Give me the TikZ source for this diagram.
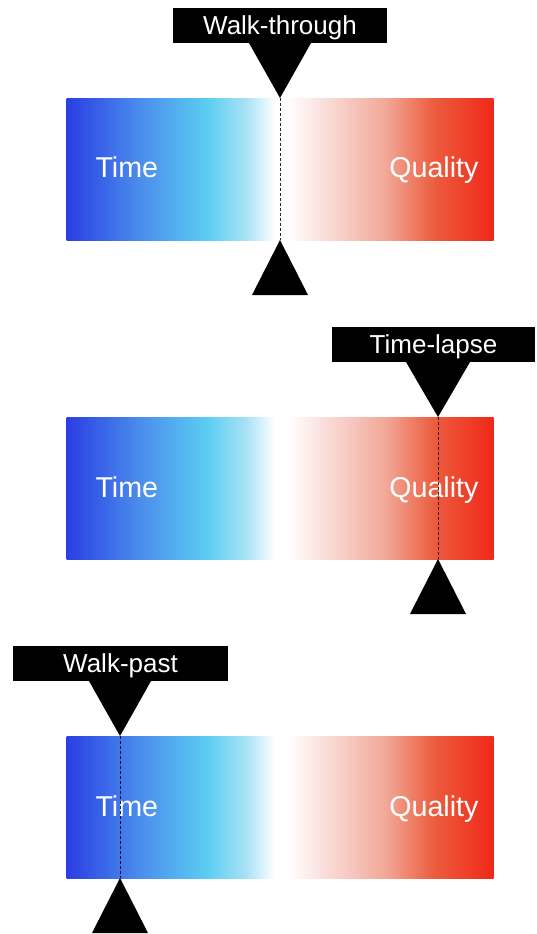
\documentclass[tikz,border=0pt]{standalone}
\usepackage{fontspec}
\setmainfont{Liberation Sans}
\usetikzlibrary{calc}

% colour stops of the bar, blue (time) through white to red (quality)
\definecolor{tqBlueDeep}{RGB}{42,62,228}
\definecolor{tqBlue}{RGB}{74,140,236}
\definecolor{tqCyan}{RGB}{92,205,242}
\definecolor{tqIce}{RGB}{168,226,246}
\definecolor{tqPink}{RGB}{250,224,220}
\definecolor{tqSalmon}{RGB}{242,166,150}
\definecolor{tqOrange}{RGB}{236,92,62}
\definecolor{tqRed}{RGB}{240,40,24}

% the bar uses the middle 50bp of the shading
\pgfdeclarehorizontalshading{timequality}{100bp}{%
  color(0bp)=(tqBlueDeep); color(25bp)=(tqBlueDeep);
  color(33.5bp)=(tqBlue); color(41.5bp)=(tqCyan);
  color(46bp)=(tqIce); color(49.4bp)=(white);
  color(50.8bp)=(white); color(55bp)=(tqPink);
  color(62.5bp)=(tqSalmon); color(68bp)=(tqOrange);
  color(75bp)=(tqRed); color(100bp)=(tqRed)}

\tikzset{every picture/.style={line width=0.75pt},
  scalebar/.style={shading=timequality, draw=none, inner sep=0pt,
    minimum width=320.25pt, minimum height=106.5pt},
  barlabel/.style={text=white, inner sep=0pt, font=\fontsize{21.5}{24}\selectfont},
  tagbox/.style={fill=black, text=white, inner sep=0pt, minimum height=26.25pt,
    text height=14pt, text depth=0pt, font=\fontsize{19.5}{22}\selectfont},
  pointer/.style={fill=black},
  markline/.style={draw=black, draw opacity=0.85, line width=0.6pt,
    dash pattern=on 2.25pt off 1.5pt}}

\begin{document}
\begin{tikzpicture}[x=0.75pt,y=0.75pt,yscale=-1,xscale=1]
    \useasboundingbox (0,0) rectangle (536,934);

    %Walk-through: marker in the middle
    \node[scalebar, anchor=north west] (bar1) at (66,98) {};
    \node[barlabel, anchor=base west] (time1) at (95,178) {Time};
    \node[barlabel, anchor=base east] (qual1) at (479,178) {Quality};
    \node[tagbox, minimum width=160.5pt] (tag1) at (280,25.5) {Walk-through};
    \coordinate (mark1t) at (280,98);
    \coordinate (mark1b) at (280,240);
    \fill[pointer] ($(mark1t)+(-31,-55)$) -- ($(mark1t)+(31,-55)$) -- (mark1t) -- cycle;
    \fill[pointer] (mark1b) -- ($(mark1b)+(28,55)$) -- ($(mark1b)+(-28,55)$) -- cycle;
    \draw[markline] (mark1t) -- (mark1b);

    %Time-lapse: marker on the quality side
    \node[scalebar, anchor=north west] (bar2) at (66,417) {};
    \node[barlabel, anchor=base west] (time2) at (95,497) {Time};
    \node[barlabel, anchor=base east] (qual2) at (479,497) {Quality};
    \node[tagbox, minimum width=152.25pt] (tag2) at (433.5,344.5) {Time-lapse};
    \coordinate (mark2t) at (438,417);
    \coordinate (mark2b) at (438,559);
    \fill[pointer] ($(mark2t)+(-32,-55)$) -- ($(mark2t)+(32,-55)$) -- (mark2t) -- cycle;
    \fill[pointer] (mark2b) -- ($(mark2b)+(28,55)$) -- ($(mark2b)+(-28,55)$) -- cycle;
    \draw[markline] (mark2t) -- (mark2b);

    %Walk-past: marker on the time side
    \node[scalebar, anchor=north west] (bar3) at (66,736) {};
    \node[barlabel, anchor=base west] (time3) at (95,816) {Time};
    \node[barlabel, anchor=base east] (qual3) at (479,816) {Quality};
    \node[tagbox, minimum width=161.25pt] (tag3) at (120.5,663.5) {Walk-past};
    \coordinate (mark3t) at (120,736);
    \coordinate (mark3b) at (120,878);
    \fill[pointer] ($(mark3t)+(-31,-55)$) -- ($(mark3t)+(31,-55)$) -- (mark3t) -- cycle;
    \fill[pointer] (mark3b) -- ($(mark3b)+(28,55)$) -- ($(mark3b)+(-28,55)$) -- cycle;
    \draw[markline] (mark3t) -- (mark3b);

\end{tikzpicture}
\end{document}
